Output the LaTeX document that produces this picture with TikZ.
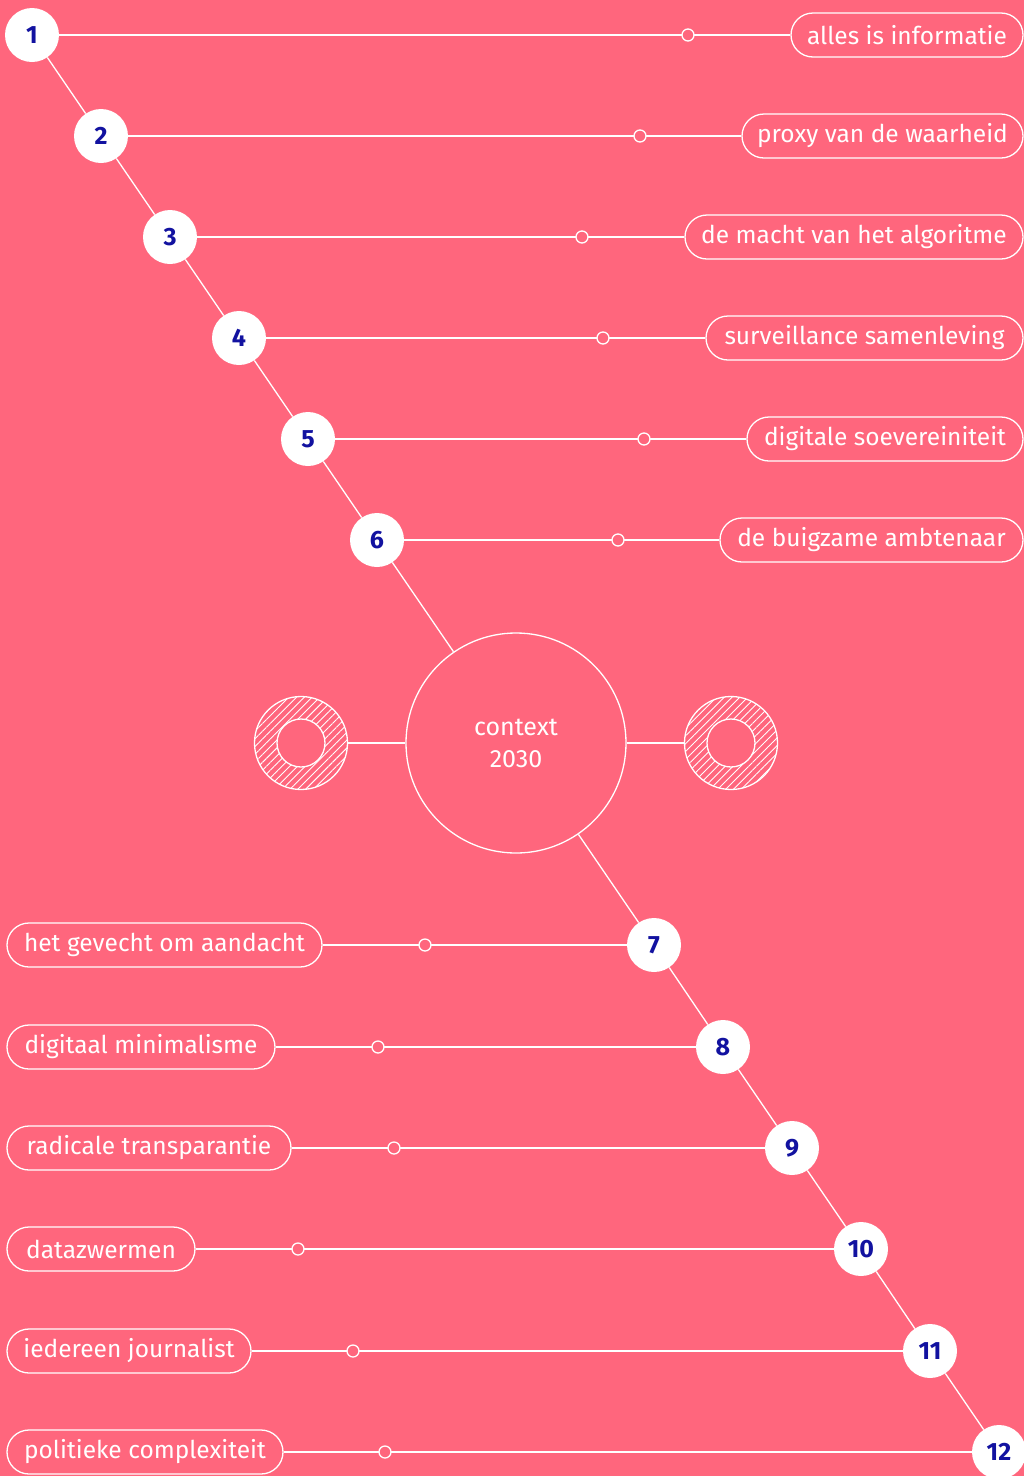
\documentclass[tikz,border=0pt]{standalone}
\usepackage{fontspec}
\setmainfont{Fira Sans}
\usetikzlibrary{patterns.meta}
\definecolor{bg}{HTML}{FF667D}
\definecolor{numc}{HTML}{1212A0}
\begin{document}
\begin{tikzpicture}[x=1pt,y=-1pt,
  numnode/.style={circle,fill=white,minimum size=54pt,inner sep=0pt,text=numc,font=\fontsize{25}{27}\selectfont\bfseries},
  pill/.style={draw=white,line width=1.3pt,rounded corners=22pt,minimum height=44pt,inner sep=0pt,text=white,font=\fontsize{24.5}{26}\selectfont},
  dotm/.style={circle,draw=white,fill=bg,line width=1.3pt,minimum size=12pt,inner sep=0pt},
  ln/.style={draw=white,line width=1.3pt},
  ring/.style={circle,minimum size=93pt,inner sep=0pt}]
\fill[bg] (0,0) rectangle (1024,1476);
\useasboundingbox (0,0) rectangle (1024,1476);

% central circle and rings
\node[circle,draw=white,line width=1.3pt,minimum size=220pt,inner sep=0pt,text=white,align=center,font=\fontsize{25}{32}\selectfont] (ctx) at (516,743) {context\\2030};
\node[ring] (rl) at (301,743) {};
\node[ring] (rr) at (731,743) {};
\foreach \cx in {301,731}{
  \fill[pattern={Lines[angle=45,distance=5.5pt,line width=0.9pt]},pattern color=white,even odd rule] (\cx,743) circle (46.5) (\cx,743) circle (24);
  \draw[ln] (\cx,743) circle (46.5) (\cx,743) circle (24);
}
\draw[ln] (rl) -- (ctx);
\draw[ln] (ctx) -- (rr);

% number nodes
\node[numnode] (n1) at (32,35) {1};
\node[numnode] (n2) at (101,136) {2};
\node[numnode] (n3) at (170,237) {3};
\node[numnode] (n4) at (239,338) {4};
\node[numnode] (n5) at (308,439) {5};
\node[numnode] (n6) at (377,540) {6};
\node[numnode] (n7) at (654,945) {7};
\node[numnode] (n8) at (723,1047) {8};
\node[numnode] (n9) at (792,1148) {9};
\node[numnode] (n10) at (861,1249) {10};
\node[numnode] (n11) at (930,1351) {11};
\node[numnode] (n12) at (999,1452) {12};

% pills right
\node[pill,minimum width=232pt] (p1) at (907,35) {alles is informatie};
\node[pill,minimum width=281pt] (p2) at (882.5,136) {proxy van de waarheid};
\node[pill,minimum width=338pt] (p3) at (854,237) {de macht van het algoritme};
\node[pill,minimum width=317pt] (p4) at (864.5,338) {surveillance samenleving};
\node[pill,minimum width=276pt] (p5) at (885,439) {digitale soevereiniteit};
\node[pill,minimum width=303pt] (p6) at (871.5,540) {de buigzame ambtenaar};
% pills left
\node[pill,minimum width=315pt] (p7) at (164.5,945) {het gevecht om aandacht};
\node[pill,minimum width=268pt] (p8) at (141,1047) {digitaal minimalisme};
\node[pill,minimum width=284pt] (p9) at (149,1148) {radicale transparantie};
\node[pill,minimum width=188pt] (p10) at (101,1249) {datazwermen};
\node[pill,minimum width=244pt] (p11) at (129,1351) {iedereen journalist};
\node[pill,minimum width=276pt] (p12) at (145,1452) {politieke complexiteit};

% connectors
\draw[ln] (n1) -- (n2); \draw[ln] (n2) -- (n3); \draw[ln] (n3) -- (n4);
\draw[ln] (n4) -- (n5); \draw[ln] (n5) -- (n6); \draw[ln] (n6) -- (ctx);
\draw[ln] (ctx) -- (n7); \draw[ln] (n7) -- (n8); \draw[ln] (n8) -- (n9);
\draw[ln] (n9) -- (n10); \draw[ln] (n10) -- (n11); \draw[ln] (n11) -- (n12);
\foreach \i in {1,...,6}{\draw[ln] (n\i) -- (p\i);}
\foreach \i in {7,...,12}{\draw[ln] (p\i) -- (n\i);}

% markers
\node[dotm] (m1) at (688,35) {};
\node[dotm] (m2) at (640,136) {};
\node[dotm] (m3) at (582,237) {};
\node[dotm] (m4) at (603,338) {};
\node[dotm] (m5) at (644,439) {};
\node[dotm] (m6) at (618,540) {};
\node[dotm] (m7) at (425,945) {};
\node[dotm] (m8) at (378,1047) {};
\node[dotm] (m9) at (394,1148) {};
\node[dotm] (m10) at (298,1249) {};
\node[dotm] (m11) at (353,1351) {};
\node[dotm] (m12) at (385,1452) {};
\end{tikzpicture}
\end{document}
